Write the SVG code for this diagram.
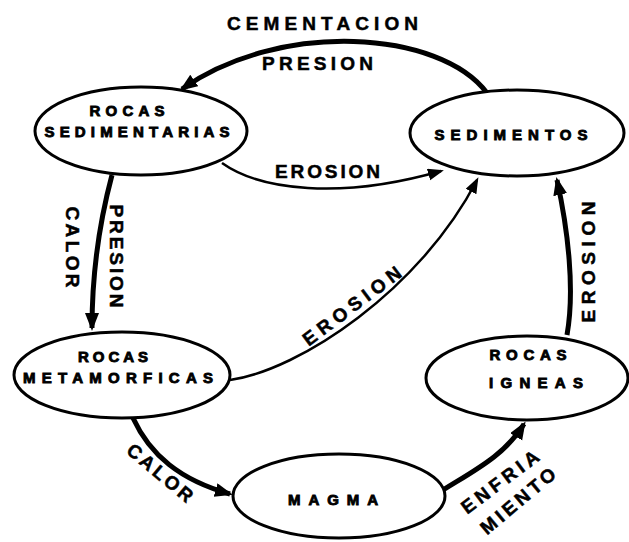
<svg xmlns="http://www.w3.org/2000/svg" width="629" height="542" viewBox="0 0 629 542">
<defs>
<style>
.node{fill:#fff;stroke:#000;stroke-width:3}
.nt{font-family:"Liberation Sans",Arial,sans-serif;font-weight:bold;font-size:15px;fill:#000;stroke:#000;stroke-width:0.9;text-anchor:middle}
.lb{font-family:"Liberation Sans",Arial,sans-serif;font-weight:bold;font-size:19px;fill:#000;stroke:#000;stroke-width:0.5}
.thick{fill:none;stroke:#000;stroke-width:5;marker-end:url(#ah)}
.thin{fill:none;stroke:#000;stroke-width:2.5;marker-end:url(#ahs)}
</style>
<marker id="ah" markerUnits="userSpaceOnUse" markerWidth="20" markerHeight="16" refX="15" refY="7" orient="auto">
<path d="M0,0 L18,7 L0,14 z" fill="#000"/>
</marker>
<marker id="ahs" markerUnits="userSpaceOnUse" markerWidth="18" markerHeight="14" refX="13" refY="6" orient="auto">
<path d="M0,0 L16,6 L0,12 z" fill="#000"/>
</marker>
</defs>
<rect width="629" height="542" fill="#fff"/>
<g id="connectors">
<path class="thick" d="M487,93 C440,30 280,20 182,89"/>
<path class="thin" d="M222,163 C260,190 340,200 441,171"/>
<path class="thick" d="M112,175 C100,220 92,270 92,328"/>
<path class="thin" d="M230,380 C300,370 420,290 477,180"/>
<path class="thick" d="M567,335 C575,290 568,230 557,180"/>
<path class="thick" d="M133,418 C150,455 180,480 230,494"/>
<path class="thick" d="M443,490 C475,470 505,455 524,424"/>
</g>
<g id="labels">
<text class="lb" x="227" y="30" textLength="191" lengthAdjust="spacing">CEMENTACION</text>
<text class="lb" x="262" y="70" textLength="111" lengthAdjust="spacing">PRESION</text>
<text class="lb" x="275" y="178" textLength="105" lengthAdjust="spacing">EROSION</text>
<text class="lb" text-anchor="middle" dominant-baseline="central" textLength="81" lengthAdjust="spacing" transform="translate(72,247) rotate(90)" font-size="20">CALOR</text>
<text class="lb" text-anchor="middle" dominant-baseline="central" textLength="103" lengthAdjust="spacing" transform="translate(116,256) rotate(90)" font-size="20">PRESION</text>
<text class="lb" text-anchor="middle" dominant-baseline="central" textLength="118" lengthAdjust="spacing" transform="translate(352,306) rotate(-37)">EROSION</text>
<text class="lb" text-anchor="middle" dominant-baseline="central" textLength="121" lengthAdjust="spacing" transform="translate(588,262) rotate(-90)">EROSION</text>
<text class="lb" text-anchor="middle" dominant-baseline="central" textLength="80" lengthAdjust="spacing" transform="translate(160,473) rotate(40)">CALOR</text>
<text class="lb" text-anchor="middle" dominant-baseline="central" textLength="92" lengthAdjust="spacing" transform="translate(500,482) rotate(-37)" font-size="17">ENFRIA</text>
<text class="lb" text-anchor="middle" dominant-baseline="central" textLength="92" lengthAdjust="spacing" transform="translate(518,501) rotate(-40)" font-size="17">MIENTO</text>
</g>
<g id="rocas-sedimentarias">
<ellipse class="node" cx="141" cy="131" rx="106" ry="44"/>
<text class="nt" x="127" y="116" textLength="75" lengthAdjust="spacing">ROCAS</text>
<text class="nt" x="137" y="137" textLength="185" lengthAdjust="spacing">SEDIMENTARIAS</text>
</g>
<g id="sedimentos">
<ellipse class="node" cx="517" cy="133" rx="107" ry="43"/>
<text class="nt" x="511" y="140" textLength="153" lengthAdjust="spacing">SEDIMENTOS</text>
</g>
<g id="rocas-metamorficas">
<ellipse class="node" cx="122" cy="375" rx="108" ry="43"/>
<text class="nt" x="113" y="362" textLength="70" lengthAdjust="spacing">ROCAS</text>
<text class="nt" x="118" y="383" textLength="190" lengthAdjust="spacing">METAMORFICAS</text>
</g>
<g id="rocas-igneas">
<ellipse class="node" cx="527" cy="378" rx="101" ry="42"/>
<text class="nt" x="528" y="360" textLength="77" lengthAdjust="spacing">ROCAS</text>
<text class="nt" x="536" y="388" textLength="94" lengthAdjust="spacing">IGNEAS</text>
</g>
<g id="magma">
<ellipse class="node" cx="339" cy="496" rx="106" ry="42"/>
<text class="nt" x="333" y="505" textLength="90" lengthAdjust="spacing">MAGMA</text>
</g>
</svg>
